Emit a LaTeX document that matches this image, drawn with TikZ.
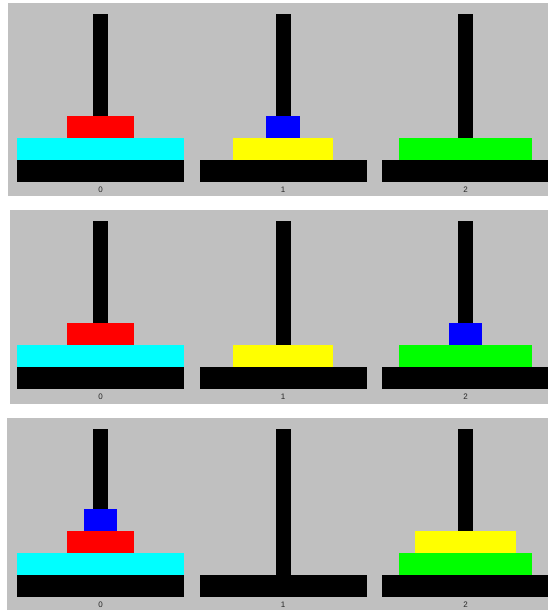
\documentclass[tikz,border=0pt]{standalone}
\usepackage{fontspec}
\setsansfont{Liberation Sans}
\definecolor{panelgray}{RGB}{192,192,192}
\definecolor{diskred}{RGB}{255,0,0}
\definecolor{diskblue}{RGB}{0,0,255}
\definecolor{diskyellow}{RGB}{255,255,0}
\definecolor{diskgreen}{RGB}{0,255,0}
\definecolor{diskcyan}{RGB}{0,255,255}
\tikzset{
  panel/.style={fill=panelgray},
  pole/.style={fill=black},
  plate/.style={fill=black},
  tag/.style={
    font=\sffamily\fontsize{8}{9}\selectfont,
    text=black!85,
    inner sep=0pt
  }
}
% #1 panel name, #2 y of the base bottom, #3 left edge, #4 bottom edge
\newcommand{\towerpanel}[4]{%
  \fill[panel] (#3,#2-179) rectangle (548,#4);
  \foreach \i in {0,1,2} {
    \pgfmathsetmacro{\px}{100.5+182.5*\i}
    \fill[pole] (\px-7.5,#2-168) rectangle (\px+7.5,#2-22);
    \fill[plate] (\px-83.5,#2-22) rectangle (\px+83.5,#2);
    \node[tag] (#1-\i) at (\px,#2+8) {\i};
  }%
}
% #1 y of the base bottom, #2 peg, #3 level, #4 size, #5 colour
\newcommand{\disk}[5]{%
  \fill[#5] ({100.5+182.5*#2-16.7*#4},{#1-22*#3})
    rectangle ({100.5+182.5*#2+16.7*#4},{#1-22*(#3+1)});%
}

\begin{document}
\begin{tikzpicture}[x=1pt,y=-1pt]
  \fill[white] (0,0) rectangle (548,610);
  \useasboundingbox (0,0) rectangle (548,610);

  % Three snapshots of the towers.
  \towerpanel{a}{182}{8}{196}
  \towerpanel{b}{389}{10}{404}
  \towerpanel{c}{597}{7}{612}

  % Disks: base y / peg / level / size / colour.
  \foreach \y/\p/\l/\s/\c in {
    182/0/1/5/diskcyan, 182/0/2/2/diskred,
    182/1/1/3/diskyellow, 182/1/2/1/diskblue,
    182/2/1/4/diskgreen,
    389/0/1/5/diskcyan, 389/0/2/2/diskred,
    389/1/1/3/diskyellow,
    389/2/1/4/diskgreen, 389/2/2/1/diskblue,
    597/0/1/5/diskcyan, 597/0/2/2/diskred, 597/0/3/1/diskblue,
    597/2/1/4/diskgreen, 597/2/2/3/diskyellow} {
    \disk{\y}{\p}{\l}{\s}{\c}
  }
\end{tikzpicture}
\end{document}
